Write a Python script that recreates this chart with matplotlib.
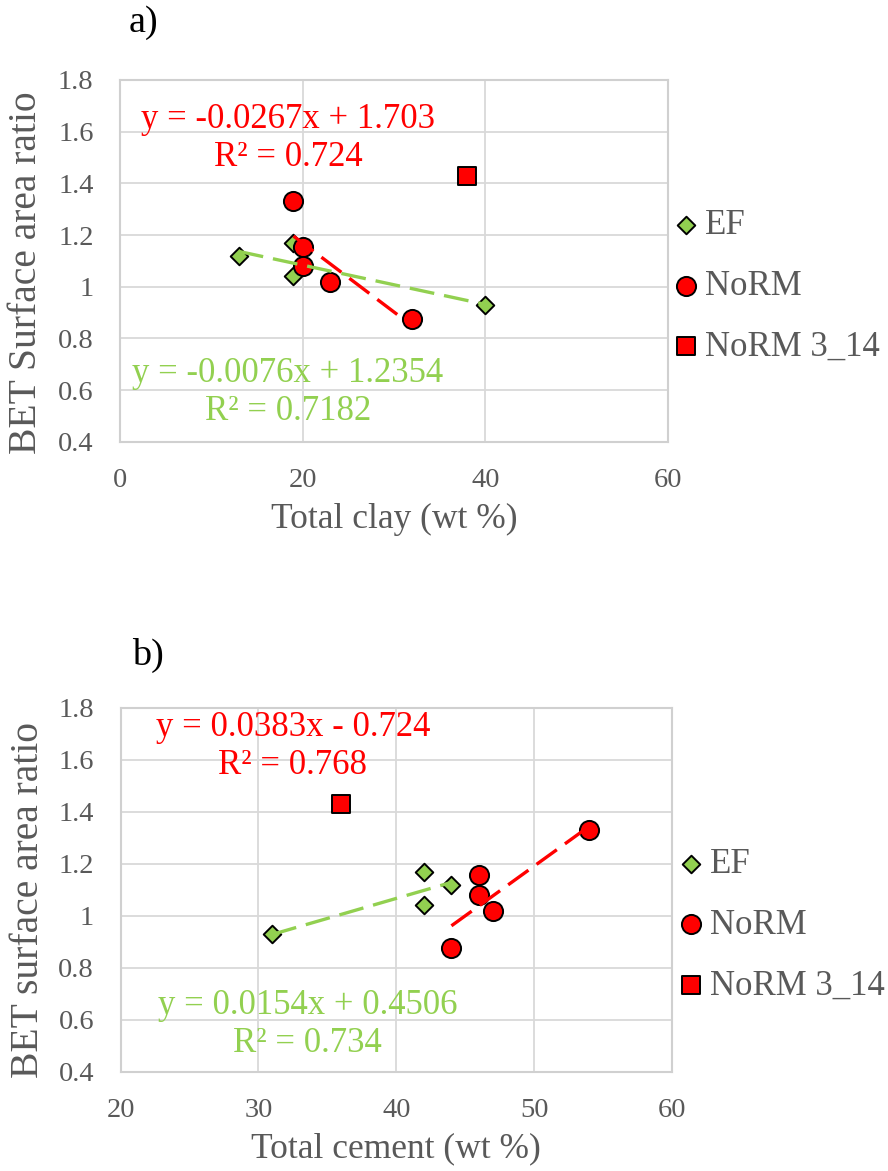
import matplotlib.pyplot as plt
import numpy as np

plt.rcParams['font.family'] = ['Liberation Serif', 'DejaVu Serif']

GREEN = '#92D050'
RED = '#FF0000'
GREY = '#595959'

# BET surface area ratio per sample, with the clay and cement contents
ef_clay = [13, 19, 19, 40]
ef_cement = [44, 42, 42, 31]
ef_ratio = [1.12, 1.17, 1.04, 0.93]

norm_clay = [19, 20, 20, 23, 32]
norm_cement = [54, 46, 46, 47, 44]
norm_ratio = [1.33, 1.155, 1.08, 1.02, 0.875]

# sample 3_14 is kept out of the NoRM fit
odd_clay = [38]
odd_cement = [36]
odd_ratio = [1.43]

# linear fits (slope, intercept, R2) as reported
ef_fit_clay = (-0.0076, 1.2354, '0.7182')
norm_fit_clay = (-0.0267, 1.703, '0.724')
ef_fit_cement = (0.0154, 0.4506, '0.734')
norm_fit_cement = (0.0383, -0.724, '0.768')

yticks = [0.4, 0.6, 0.8, 1.0, 1.2, 1.4, 1.6, 1.8]
ytick_labels = ['0.4', '0.6', '0.8', '1', '1.2', '1.4', '1.6', '1.8']


def fit_label(m, b, r2):
    sign = '+' if b >= 0 else '-'
    return f'y = {m:g}x {sign} {abs(b):g}\nR\u00b2 = {r2}'


def trend(ax, x, fit, c):
    xs = np.array([min(x), max(x)])
    ax.plot(xs, fit[0] * xs + fit[1], ls=(0, (7.5, 3)), lw=2.4, c=c, zorder=4)


def panel(ax, ef_x, norm_x, odd_x, ef_fit, norm_fit, xlim, xticks,
          xlabel, ylabel, ef_pos, norm_pos, tag, tag_pos, ylabel_pos, legend_pos):
    ax.scatter(ef_x, ef_ratio, marker='D', s=80, c=GREEN, edgecolors='black',
               linewidths=1.4, label='EF', zorder=3)
    ax.scatter(norm_x, norm_ratio, marker='o', s=190, c=RED, edgecolors='black',
               linewidths=1.4, label='NoRM', zorder=3)
    ax.scatter(odd_x, odd_ratio, marker='s', s=170, c=RED, edgecolors='black',
               linewidths=1.4, label='NoRM 3_14', zorder=3)
    trend(ax, ef_x, ef_fit, GREEN)
    trend(ax, norm_x, norm_fit, RED)

    ax.text(*norm_pos, fit_label(*norm_fit), color=RED, fontsize=25,
            ha='center', va='center', multialignment='center', linespacing=1.2)
    ax.text(*ef_pos, fit_label(*ef_fit), color=GREEN, fontsize=25,
            ha='center', va='center', multialignment='center', linespacing=1.2)

    ax.set_xlim(*xlim)
    ax.set_ylim(0.4, 1.8)
    ax.set_xticks(xticks)
    ax.set_yticks(yticks)
    ax.set_yticklabels(ytick_labels)
    ax.grid(True, color='#d9d9d9', lw=1.3)
    ax.set_axisbelow(True)
    for s in ax.spines.values():
        s.set_color('#d0d0d0')
        s.set_linewidth(1.5)
    ax.tick_params(length=0, labelsize=20.5, labelcolor=GREY, pad=19)
    ax.set_xlabel(xlabel, fontsize=25.5, color=GREY, labelpad=7)
    ax.set_ylabel(ylabel, fontsize=28.5, color=GREY, va='center')
    ax.yaxis.set_label_coords(*ylabel_pos)
    ax.text(*tag_pos, tag, fontsize=27.5, ha='center', va='center',
            transform=ax.transAxes)

    ax.legend(loc='center left', bbox_to_anchor=legend_pos, frameon=False,
              fontsize=25, labelcolor=GREY, handlelength=0.5, borderpad=0,
              handletextpad=0.3, labelspacing=0.8, borderaxespad=0)


fig = plt.figure(figsize=(8.88, 11.71), dpi=100)
ax_a = fig.add_axes([0.1351, 0.6228, 0.6171, 0.3089])
ax_b = fig.add_axes([0.1357, 0.0848, 0.6211, 0.3108])

panel(ax_a, ef_clay, norm_clay, odd_clay, ef_fit_clay, norm_fit_clay,
      (0, 60), [0, 20, 40, 60], 'Total clay (wt %)', 'BET Surface area ratio',
      (18.4, 0.589), (18.4, 1.572), 'a)', (0.042, 1.158), (-0.17, 0.466),
      (1.017, 0.43))
panel(ax_b, ef_cement, norm_cement, odd_cement, ef_fit_cement, norm_fit_cement,
      (20, 60), [20, 30, 40, 50, 60], 'Total cement (wt %)', 'BET surface area ratio',
      (33.56, 0.58), (32.5, 1.651), 'b)', (0.05, 1.145), (-0.166, 0.472),
      (1.018, 0.403))

fig.savefig('out.png', dpi=100)
